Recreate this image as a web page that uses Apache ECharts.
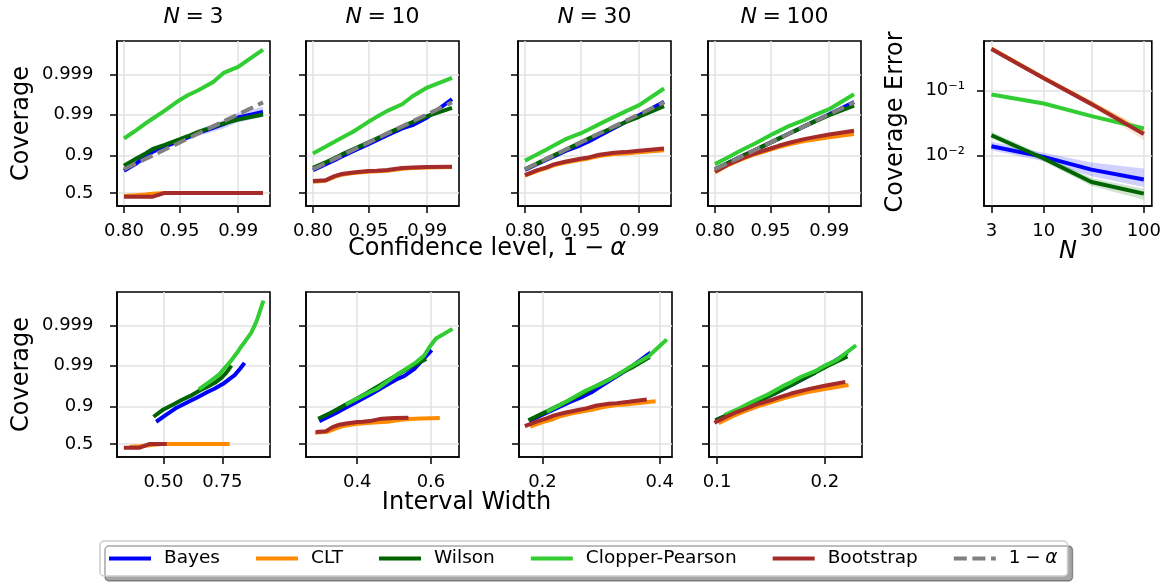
<!DOCTYPE html>
<html>
<head>
<meta charset="utf-8">
<script src="https://cdn.jsdelivr.net/npm/echarts@6/dist/echarts.min.js"></script>
<style>
  html, body { margin: 0; padding: 0; background: #fff; }
  #chart { width: 1164px; height: 582px; }
</style>
</head>
<body>
<div id="chart"></div>
<script>
// confidence levels 1 - alpha (same in every panel)
var levels = [0.80, 0.85, 0.88, 0.90, 0.925, 0.95, 0.96, 0.97, 0.98, 0.985, 0.99, 0.995];
var sampleSizes = [3, 10, 30, 100];

// coverage, one row per N (3, 10, 30, 100)
var covBayes = [
  [0.786, 0.849, 0.893, 0.9175, 0.937, 0.9548, 0.9624, 0.9711, 0.9783, 0.9824, 0.9880, 0.99135],
  [0.7925, 0.842, 0.8724, 0.8944, 0.9204, 0.9457, 0.9565, 0.9671, 0.9775, 0.9814, 0.9880, 0.99585],
  [0.795, 0.845, 0.875, 0.895, 0.92, 0.942, 0.953, 0.966, 0.978, 0.984, 0.9895, 0.9952],
  [0.80, 0.85, 0.88, 0.90, 0.925, 0.95, 0.96, 0.97, 0.98, 0.985, 0.99, 0.9951]
];
// spread of the Bayes coverage for N = 3
var covBayes3Lo = [0.774, 0.840, 0.886, 0.912, 0.931, 0.9496, 0.9572, 0.9655, 0.9728, 0.9775, 0.9843, 0.98836];
var covBayes3Hi = [0.797, 0.858, 0.899, 0.9225, 0.9423, 0.9595, 0.9671, 0.9759, 0.9827, 0.9863, 0.99088, 0.99357];
var covCLT = [
  [0.456, 0.468, 0.48, 0.49, 0.5, 0.5, 0.5, 0.5, 0.5, 0.5, 0.5, 0.5],
  [0.66, 0.672, 0.72, 0.745, 0.762, 0.776, 0.78, 0.787, 0.805, 0.812, 0.816, 0.82],
  [0.735, 0.785, 0.81, 0.835, 0.855, 0.875, 0.883, 0.897, 0.907, 0.910, 0.915, 0.924],
  [0.772, 0.833, 0.864, 0.883, 0.906, 0.927, 0.936, 0.945, 0.954, 0.958, 0.963, 0.969]
];
var covWilson = [
  [0.831, 0.883, 0.910, 0.929, 0.9425, 0.958, 0.965, 0.9728, 0.9795, 0.9831, 0.98654, 0.98992],
  [0.814, 0.8565, 0.885, 0.905, 0.9273, 0.9505, 0.9603, 0.9701, 0.9795, 0.9843, 0.98888, 0.99313],
  [0.80, 0.85, 0.88, 0.90, 0.925, 0.95, 0.96, 0.97, 0.979, 0.984, 0.9885, 0.9938],
  [0.80, 0.85, 0.88, 0.90, 0.925, 0.95, 0.96, 0.97, 0.98, 0.9848, 0.9895, 0.9940]
];
var covCP = [
  [0.9603, 0.9752, 0.9831, 0.9873, 0.99167, 0.99559, 0.99671, 0.99754, 0.99848, 0.99910, 0.99937, 0.99977],
  [0.910, 0.937, 0.9523, 0.9618, 0.9728, 0.9846, 0.98844, 0.99182, 0.99444, 0.99651, 0.99789, 0.9988],
  [0.868, 0.906, 0.9273, 0.9415, 0.958, 0.9701, 0.9761, 0.9824, 0.98844, 0.99135, 0.99412, 0.99777],
  [0.844, 0.887, 0.913, 0.929, 0.9475, 0.9671, 0.9738, 0.9807, 0.98601, 0.98952, 0.99259, 0.99689]
];
var covBoot = [
  [0.447, 0.447, 0.447, 0.447, 0.5, 0.5, 0.5, 0.5, 0.5, 0.5, 0.5, 0.5],
  [0.668, 0.677, 0.729, 0.752, 0.769, 0.783, 0.786, 0.7925, 0.811, 0.817, 0.820, 0.823],
  [0.741, 0.7925, 0.817, 0.842, 0.8613, 0.881, 0.889, 0.9032, 0.913, 0.916, 0.922, 0.931],
  [0.776, 0.837, 0.868, 0.887, 0.910, 0.931, 0.9404, 0.9495, 0.9588, 0.9632, 0.9683, 0.9742]
];

// mean interval width, one row per N
var widthBayes = [
  [0.469, 0.514, 0.556, 0.598, 0.641, 0.689, 0.718, 0.753, 0.781, 0.802, 0.826, 0.844],
  [0.297, 0.329, 0.352, 0.370, 0.397, 0.433, 0.452, 0.475, 0.506, 0.527, 0.556, 0.602],
  [0.178, 0.199, 0.215, 0.227, 0.246, 0.270, 0.283, 0.298, 0.319, 0.334, 0.353, 0.3845],
  [0.0985, 0.1112, 0.1205, 0.1277, 0.1385, 0.153, 0.1605, 0.170, 0.1825, 0.1911, 0.2026, 0.221]
];
var widthCLT = [
  [0.357, 0.400, 0.433, 0.458, 0.495, 0.545, 0.571, 0.604, 0.647, 0.677, 0.717, 0.781],
  [0.285, 0.320, 0.346, 0.366, 0.396, 0.436, 0.457, 0.482, 0.517, 0.541, 0.573, 0.624],
  [0.179, 0.2015, 0.218, 0.230, 0.249, 0.274, 0.2875, 0.304, 0.326, 0.341, 0.361, 0.393],
  [0.1014, 0.1139, 0.123, 0.130, 0.1408, 0.155, 0.1624, 0.1717, 0.184, 0.1924, 0.2037, 0.222]
];
var widthWilson = [
  [0.458, 0.500, 0.542, 0.577, 0.612, 0.654, 0.683, 0.718, 0.746, 0.760, 0.774, 0.788],
  [0.294, 0.324, 0.347, 0.364, 0.390, 0.424, 0.442, 0.465, 0.495, 0.515, 0.543, 0.587],
  [0.176, 0.197, 0.213, 0.225, 0.244, 0.268, 0.281, 0.297, 0.318, 0.332, 0.352, 0.383],
  [0.0985, 0.111, 0.120, 0.128, 0.138, 0.153, 0.160, 0.170, 0.182, 0.191, 0.202, 0.221]
];
var widthCP = [
  [0.650, 0.6995, 0.737, 0.754, 0.782, 0.817, 0.831, 0.847, 0.872, 0.890, 0.900, 0.924],
  [0.3686, 0.4045, 0.4314, 0.4538, 0.4763, 0.5149, 0.5364, 0.5615, 0.5821, 0.5956, 0.6135, 0.6584],
  [0.2075, 0.229, 0.244, 0.256, 0.274, 0.298, 0.311, 0.327, 0.347, 0.362, 0.381, 0.412],
  [0.107, 0.120, 0.129, 0.136, 0.147, 0.161, 0.169, 0.178, 0.191, 0.199, 0.211, 0.229]
];
var widthBoot = [
  [0.332, 0.36, 0.38, 0.40, 0.44, 0.47, 0.48, 0.49, 0.50, 0.505, 0.51, 0.514],
  [0.288, 0.314, 0.333, 0.348, 0.370, 0.400, 0.415, 0.434, 0.460, 0.477, 0.501, 0.539],
  [0.170, 0.192, 0.207, 0.220, 0.238, 0.263, 0.275, 0.291, 0.313, 0.327, 0.347, 0.378],
  [0.0975, 0.110, 0.119, 0.1265, 0.137, 0.152, 0.159, 0.168, 0.181, 0.189, 0.201, 0.219]
];

// coverage error vs N (right panel) with shaded bands
var errBayes = [0.0139, 0.00953, 0.00608, 0.00428];
var errBayesLo = [0.0120, 0.0082, 0.0048, 0.0033];
var errBayesHi = [0.0162, 0.0110, 0.0078, 0.0063];
var errCLT = [0.44, 0.155, 0.063, 0.022];
var errWilson = [0.0205, 0.0090, 0.00393, 0.0026];
var errWilsonLo = [0.0183, 0.0081, 0.0034, 0.0021];
var errWilsonHi = [0.0232, 0.0101, 0.0045, 0.0031];
var errCP = [0.0867, 0.063, 0.0403, 0.026];
var errBoot = [0.431, 0.153, 0.0615, 0.0213];
var errBootLo = [0.418, 0.147, 0.056, 0.0172];
var errBootHi = [0.447, 0.159, 0.068, 0.0265];

// tick labels
var covTicks = [0.5, 0.9, 0.99, 0.999];
var covTickLabels = ['0.5', '0.9', '0.99', '0.999'];
var levelTicks = [0.80, 0.95, 0.99];
var levelTickLabels = ['0.80', '0.95', '0.99'];
var widthTicks = [[0.5, 0.75], [0.4, 0.6], [0.2, 0.4], [0.1, 0.2]];
var widthTickLabels = [['0.50', '0.75'], ['0.4', '0.6'], ['0.2', '0.4'], ['0.1', '0.2']];
var nTickLabels = ['3', '10', '30', '100'];
var errTicks = [0.1, 0.01];
var errTickLabels = ['10\u207b\u00b9', '10\u207b\u00b2'];

var FONT = 'DejaVu Sans';

function logit(p) { return Math.log10(p / (1 - p)); }
function lg(v) { return Math.log10(v); }
function fmt(vals, labels) {
  return function (v) {
    for (var i = 0; i < vals.length; i++) {
      if (Math.abs(v - vals[i]) < 1e-6) return labels[i];
    }
    return '';
  };
}

var methods = [
  { name: 'Bayes', color: '#0000ff', cov: covBayes, width: widthBayes, err: errBayes },
  { name: 'CLT', color: '#ff8c00', cov: covCLT, width: widthCLT, err: errCLT },
  { name: 'Wilson', color: '#006400', cov: covWilson, width: widthWilson, err: errWilson },
  { name: 'Clopper-Pearson', color: '#32cd32', cov: covCP, width: widthCP, err: errCP },
  { name: 'Bootstrap', color: '#a52a2a', cov: covBoot, width: widthBoot, err: errBoot }
];

var topLeft = [117, 306, 518, 708];
var botLeft = [117, 306, 519, 709];
var panelW = 153, panelH = 165, topY = 41, botY = 292;
var LW = 4;

var grids = [], xAxes = [], yAxes = [], series = [];

function axisStyle(ticks, labels, showLabels, margin, vAlign) {
  var lab = {
    show: showLabels, customValues: ticks, formatter: fmt(ticks, labels),
    fontSize: 18, color: '#000', fontFamily: FONT, margin: margin
  };
  if (vAlign) lab.verticalAlign = vAlign;
  return {
    axisLine: { show: true, onZero: false, lineStyle: { color: '#000', width: 1.6 } },
    axisTick: { show: true, length: 7, customValues: ticks, lineStyle: { color: '#000', width: 1.5 } },
    axisLabel: lab,
    splitLine: { show: true, lineStyle: { color: '#e2e2e2', width: 1.5 } }
  };
}
function xStyle(ticks, labels) { return axisStyle(ticks, labels, true, 25, 'middle'); }
function yStyle(ticks, labels, show) { return axisStyle(ticks, labels, show, 23.5); }

function addGrid(left, top, w, h) {
  grids.push({ left: left, top: top, width: w, height: h, show: true,
    borderColor: '#000', borderWidth: 1.6, backgroundColor: 'transparent', containLabel: false });
  return grids.length - 1;
}
function lineSeries(name, color, gi, data, extra) {
  var s = {
    name: name, type: 'line', xAxisIndex: gi, yAxisIndex: gi, data: data,
    symbol: 'none', showSymbol: false, animation: false, silent: true,
    lineStyle: { color: color, width: LW, cap: 'butt' }, itemStyle: { color: color }
  };
  if (extra) for (var k in extra) s[k] = extra[k];
  return s;
}
// shaded spread around a line, one polygon placed through the axis scales
function band(gi, pts, color) {
  series.push({
    type: 'custom', xAxisIndex: gi, yAxisIndex: gi, data: pts, silent: true,
    animation: false, clip: true,
    renderItem: function (params, api) {
      if (params.dataIndex !== 0) return null;
      var poly = [];
      pts.forEach(function (p) { poly.push(api.coord([p[0], p[1]])); });
      pts.slice().reverse().forEach(function (p) { poly.push(api.coord([p[0], p[2]])); });
      return { type: 'polygon', shape: { points: poly }, style: { fill: color, opacity: 0.18 } };
    }
  });
}

var covTickVals = covTicks.map(logit);
var levelTickVals = levelTicks.map(logit);
var yMin = -0.329, yMax = 3.856;

// top row: coverage vs confidence level
for (var i = 0; i < 4; i++) {
  var gi = addGrid(topLeft[i], topY, panelW, panelH);
  xAxes.push(Object.assign({ type: 'value', gridIndex: gi, min: 0.517, max: 2.384 },
    xStyle(levelTickVals, levelTickLabels)));
  yAxes.push(Object.assign({ type: 'value', gridIndex: gi, min: yMin, max: yMax },
    yStyle(covTickVals, covTickLabels, i === 0)));
  if (i === 0) {
    band(gi, levels.map(function (l, k) {
      return [logit(l), logit(covBayes3Lo[k]), logit(covBayes3Hi[k])];
    }), '#0000ff');
  }
  methods.forEach(function (m) {
    series.push(lineSeries(m.name, m.color, gi, levels.map(function (l, k) {
      return [logit(l), logit(m.cov[i][k])];
    })));
  });
  series.push(lineSeries('1 − α', '#808080', gi, levels.map(function (l) {
    return [logit(l), logit(l)];
  }), { lineStyle: { color: '#808080', width: LW, type: [13, 5.6] } }));
}

// right panel: coverage error vs N (log-log)
var gLog = addGrid(984, topY, 168, panelH);
xAxes.push(Object.assign({ type: 'value', gridIndex: gLog, min: 0.403, max: 2.08 },
  xStyle(sampleSizes.map(lg), nTickLabels)));
yAxes.push(Object.assign({ type: 'value', gridIndex: gLog, min: -2.775, max: -0.242 },
  axisStyle(errTicks.map(lg), errTickLabels, true, 19)));

function errBand(lo, hi, color) {
  band(gLog, sampleSizes.map(function (n, k) { return [lg(n), lg(lo[k]), lg(hi[k])]; }), color);
}
errBand(errBayesLo, errBayesHi, '#0000ff');
errBand(errWilsonLo, errWilsonHi, '#006400');
errBand(errBootLo, errBootHi, '#e07030');
methods.forEach(function (m) {
  series.push(lineSeries(m.name, m.color, gLog, sampleSizes.map(function (n, k) {
    return [lg(n), lg(m.err[k])];
  })));
});

// bottom row: coverage vs interval width
var widthRanges = [[0.303, 0.952], [0.261, 0.676], [0.16, 0.421], [0.0925, 0.2345]];
for (var j = 0; j < 4; j++) {
  var gb = addGrid(botLeft[j], botY, panelW, panelH);
  xAxes.push(Object.assign({ type: 'value', gridIndex: gb, min: widthRanges[j][0], max: widthRanges[j][1] },
    xStyle(widthTicks[j], widthTickLabels[j])));
  yAxes.push(Object.assign({ type: 'value', gridIndex: gb, min: yMin, max: yMax },
    yStyle(covTickVals, covTickLabels, j === 0)));
  methods.forEach(function (m) {
    series.push(lineSeries(m.name, m.color, gb, m.width[j].map(function (w, k) {
      return [w, logit(m.cov[j][k])];
    })));
  });
}

var labelStyle = { fontFamily: FONT, fill: '#000' };
function txt(x, y, text, size, opts) {
  var st = Object.assign({}, labelStyle, {
    x: 0, y: 0, text: text, fontSize: size, align: 'center', verticalAlign: 'middle',
    rich: { i: { fontStyle: 'italic', fontSize: size, fontFamily: FONT } }
  });
  var g = { type: 'text', x: x, y: y, style: st, silent: true };
  if (opts) for (var k in opts) g[k] = opts[k];
  return g;
}
var titles = ['3', '10', '30', '100'];
var graphics = titles.map(function (t, i) {
  return txt(topLeft[i] + panelW / 2, 17, '{i|N}\u2005=\u2005' + t, 22);
});
graphics.push(txt(487, 248.5, 'Confidence level, 1\u2005−\u2005{i|α}', 24));
graphics.push(txt(466.5, 503, 'Interval Width', 24));
graphics.push(txt(22, 123.5, 'Coverage', 24, { rotation: Math.PI / 2 }));
graphics.push(txt(22, 374.5, 'Coverage', 24, { rotation: Math.PI / 2 }));
graphics.push(txt(895.5, 122, 'Coverage Error', 24, { rotation: Math.PI / 2 }));
graphics.push(txt(1068, 252, '{i|N}', 24));

var chart = echarts.init(document.getElementById('chart'));
chart.setOption({
  animation: false,
  textStyle: { fontFamily: FONT },
  grid: grids,
  xAxis: xAxes,
  yAxis: yAxes,
  series: series,
  graphic: graphics,
  legend: {
    data: ['Bayes', 'CLT', 'Wilson', 'Clopper-Pearson', 'Bootstrap', '1 − α'],
    left: 100, top: 541, orient: 'horizontal',
    padding: [8, 10, 8, 7],
    itemWidth: 42, itemHeight: 14, itemGap: 34,
    itemStyle: { opacity: 0 },
    lineStyle: { width: LW },
    backgroundColor: '#fff', borderColor: '#cccccc', borderWidth: 1.5, borderRadius: 4,
    shadowColor: 'rgba(0,0,0,0.35)', shadowOffsetX: 5, shadowOffsetY: 5, shadowBlur: 0,
    formatter: function (name) {
      return name === '1 − α' ? '{t|1\u2005−\u2005}{i|α}' : '{t|' + name + '}';
    },
    textStyle: {
      fontSize: 18.5, color: '#000', fontFamily: FONT,
      rich: {
        t: { fontSize: 18.5, fontFamily: FONT, padding: [0, 0, 0, 8] },
        i: { fontSize: 18.5, fontFamily: FONT, fontStyle: 'italic' }
      }
    }
  }
});
</script>
</body>
</html>
